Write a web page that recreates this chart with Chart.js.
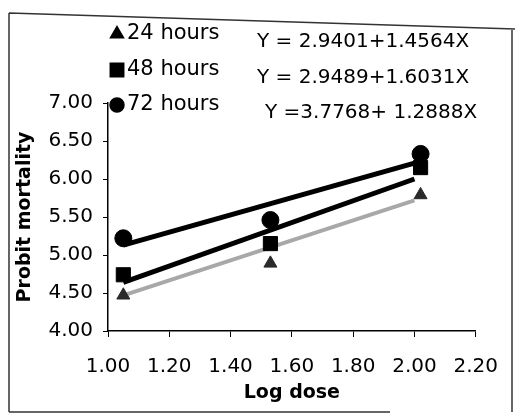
<!DOCTYPE html>
<html>
<head>
<meta charset="utf-8">
<script src="https://cdn.jsdelivr.net/npm/chart.js@4"></script>
<style>
html,body{margin:0;padding:0;background:#fff;}
#wrap{width:516px;height:416px;}
</style>
</head>
<body>
<div id="wrap"><canvas id="c" width="516" height="416"></canvas></div>
<script>
// ---- data ----
const seriesNames = ['24 hours', '48 hours', '72 hours'];
const equations = ['Y = 2.9401+1.4564X', 'Y = 2.9489+1.6031X', 'Y =3.7768+ 1.2888X'];
const logDose = [1.05, 1.53, 2.02];
const probit24 = [4.47, 4.89, 5.79];
const probit48 = [4.74, 5.15, 6.15];
const probit72 = [5.22, 5.46, 6.33];
const trendX = [1.05, 2.00];
const trend24 = [4.47, 5.72];
const trend48 = [4.64, 6.00];
const trend72 = [5.13, 6.21];
const xTicks = [1.00, 1.20, 1.40, 1.60, 1.80, 2.00, 2.20];
const yTicks = [4.00, 4.50, 5.00, 5.50, 6.00, 6.50, 7.00];

const pts = (xs, ys) => xs.map((x, i) => ({x: x, y: ys[i]}));

const styles = [
  {color: '#a8a8a8', mark: '#2a2a2a', pointStyle: 'triangle', radius: 7.5, legendRadius: 7.5},
  {color: '#000', mark: '#000', pointStyle: 'rect', radius: 10, legendRadius: 9.5},
  {color: '#000', mark: '#000', pointStyle: 'circle', radius: 8.5, legendRadius: 7}
];

const FONT = 'DejaVu Sans';

const framePlugin = {
  id: 'frame',
  afterDraw(chart) {
    const ctx = chart.ctx;
    ctx.save();
    ctx.strokeStyle = '#333';
    ctx.lineWidth = 1.5;
    ctx.beginPath();
    ctx.moveTo(9, 13); ctx.lineTo(515, 29);
    ctx.moveTo(9, 13); ctx.lineTo(9, 412);
    ctx.moveTo(9, 412); ctx.lineTo(390, 412);
    ctx.moveTo(512, 30); ctx.lineTo(512, 412);
    ctx.stroke();
    // legend
    const rows = [34, 70, 105];
    const eqRows = [42, 78, 113];
    const eqX = [257, 257, 265];
    ctx.textBaseline = 'middle';
    ctx.textAlign = 'left';
    for (let i = 0; i < seriesNames.length; i++) {
      const s = styles[i];
      ctx.fillStyle = '#000';
      ctx.strokeStyle = '#000';
      Chart.helpers.drawPoint(ctx, {pointStyle: s.pointStyle, radius: s.legendRadius, rotation: 0, borderWidth: 1}, 117, rows[i]);
      ctx.fillStyle = '#000';
      ctx.font = '21px "' + FONT + '"';
      ctx.fillText(seriesNames[i], 127, rows[i]);
      ctx.font = '20px "' + FONT + '"';
      ctx.fillText(equations[i], eqX[i], eqRows[i]);
    }
    ctx.restore();
  }
};

new Chart(document.getElementById('c'), {
  type: 'scatter',
  data: {
    datasets: [
      {label: seriesNames[0], data: pts(logDose, probit24), pointStyle: styles[0].pointStyle, pointRadius: styles[0].radius, backgroundColor: styles[0].mark, borderColor: styles[0].mark, order: 1},
      {label: seriesNames[1], data: pts(logDose, probit48), pointStyle: styles[1].pointStyle, pointRadius: styles[1].radius, backgroundColor: styles[1].mark, borderColor: styles[1].mark, order: 1},
      {label: seriesNames[2], data: pts(logDose, probit72), pointStyle: styles[2].pointStyle, pointRadius: styles[2].radius, backgroundColor: styles[2].mark, borderColor: styles[2].mark, order: 1},
      {label: 'trend 24', data: pts(trendX, trend24), showLine: true, pointRadius: 0, borderColor: styles[0].color, borderWidth: 4, order: 4},
      {label: 'trend 48', data: pts(trendX, trend48), showLine: true, pointRadius: 0, borderColor: styles[1].color, borderWidth: 5, order: 3},
      {label: 'trend 72', data: pts(trendX, trend72), showLine: true, pointRadius: 0, borderColor: styles[2].color, borderWidth: 5, order: 2}
    ]
  },
  options: {
    responsive: false,
    animation: false,
    devicePixelRatio: 1,
    layout: {padding: {top: 103, right: 27, left: 0, bottom: 0}},
    plugins: {legend: {display: false}, tooltip: {enabled: false}},
    scales: {
      x: {
        type: 'linear', min: 1.0, max: 2.2,
        afterFit(s) { s.height = 85; },
        afterBuildTicks(s) { s.ticks = xTicks.map(v => ({value: v})); },
        grid: {drawOnChartArea: false, color: '#000', tickLength: 6, tickWidth: 1},
        border: {color: '#000', width: 1.5},
        ticks: {color: '#000', font: {family: FONT, size: 20}, padding: 18, maxRotation: 0, callback: v => v.toFixed(2)},
        title: {display: true, text: 'Log dose', color: '#000', font: {family: FONT, size: 19, weight: 'bold'}, padding: {top: 0, bottom: 12}}
      },
      y: {
        min: 4, max: 7,
        afterFit(s) { s.width = 108; },
        afterBuildTicks(s) { s.ticks = yTicks.map(v => ({value: v})); },
        grid: {drawOnChartArea: false, color: '#000', tickLength: 5, tickWidth: 1},
        border: {color: '#000', width: 1.5},
        ticks: {color: '#000', font: {family: FONT, size: 20}, padding: 10, callback: v => v.toFixed(2)},
        title: {display: true, text: 'Probit mortality', color: '#000', font: {family: FONT, size: 19, weight: 'bold'}, padding: {top: 14, bottom: 0}}
      }
    }
  },
  plugins: [framePlugin]
});
</script>
</body>
</html>
